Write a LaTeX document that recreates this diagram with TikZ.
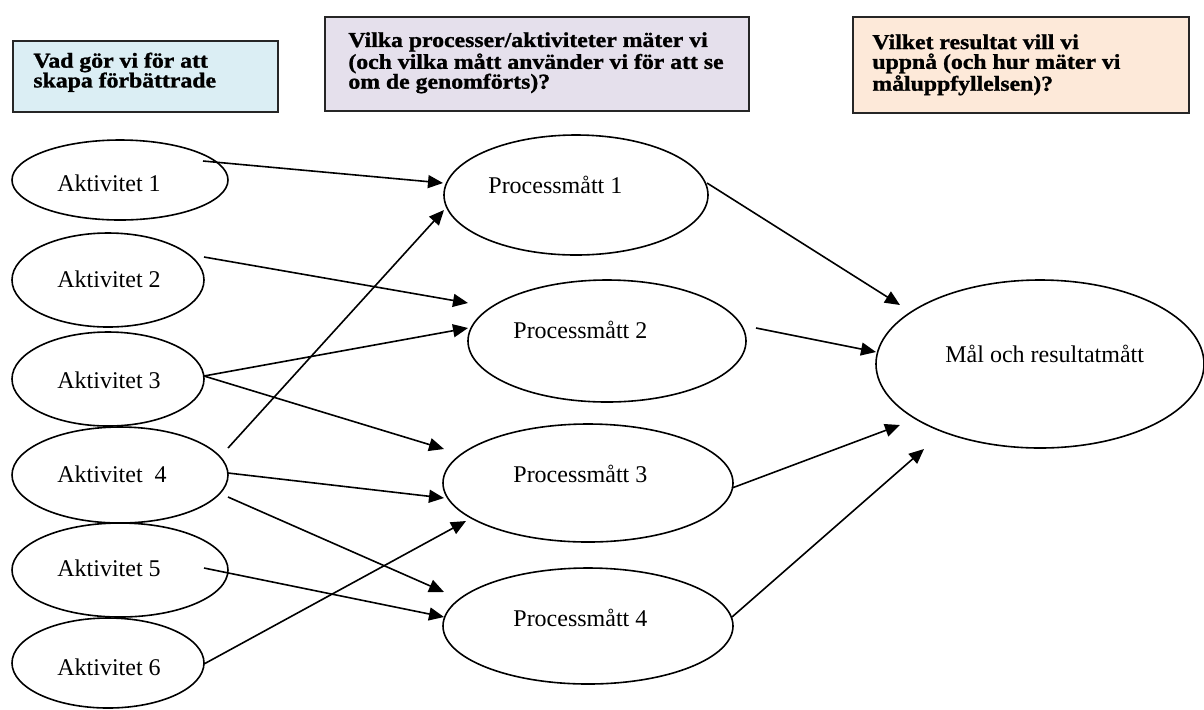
\documentclass[tikz,border=0pt]{standalone}
\usepackage{fontspec}
\setmainfont{Liberation Serif}
\newfontfamily\hdfont{Liberation Serif}[FakeStretch=1.12,FakeBold=1.2]
\usetikzlibrary{shapes.geometric,arrows.meta,calc}
\definecolor{boxblue}{HTML}{DBEEF4}
\definecolor{boxlilac}{HTML}{E5E0EC}
\definecolor{boxpeach}{HTML}{FDE9D9}
\begin{document}
\begin{tikzpicture}[x=0.5pt,y=-0.5pt,
  ell/.style={ellipse,draw,line width=0.8pt,inner sep=0pt},
  arr/.style={line width=0.8pt,-{Triangle[length=7.5pt,width=6.5pt]}},
  hbox/.style={draw=black!85,line width=0.8pt,anchor=north west,inner sep=0pt},
  htext/.style={anchor=west,align=left,inner sep=0pt,
    font=\hdfont\bfseries\fontsize{10.6}{9.9}\selectfont},
  lbl/.style={anchor=base west,inner sep=0pt,font=\fontsize{12}{14}\selectfont}]
\useasboundingbox (0,0) rectangle (1204,709);

% header boxes
\node[hbox,fill=boxblue,minimum width=132.5pt,minimum height=35.5pt] (h1) at (12,40) {};
\node[hbox,fill=boxlilac,minimum width=212pt,minimum height=47pt] (h2) at (324,16) {};
\node[hbox,fill=boxpeach,minimum width=168pt,minimum height=48pt] (h3) at (852,16) {};

\node[htext] (ht1) at ($(h1.west)+(21,-4)$) {Vad gör vi för att\\skapa förbättrade};
\node[htext] (ht2) at ($(h2.west)+(24,-1)$) {Vilka processer/aktiviteter mäter vi\\(och vilka mått använder vi för att se\\om de genomförts)?};
\node[htext] (ht3) at ($(h3.west)+(20,0)$) {Vilket resultat vill vi\\uppnå (och hur mäter vi\\måluppfyllelsen)?};

% activity ellipses
\node[ell,minimum width=108pt,minimum height=40pt] (a1) at (120,180) {};
\node[ell,minimum width=96pt,minimum height=47pt] (a2) at (108,280) {};
\node[ell,minimum width=96pt,minimum height=47pt] (a3) at (108,379) {};
\node[ell,minimum width=108pt,minimum height=48pt] (a4) at (120,475) {};
\node[ell,minimum width=108pt,minimum height=47pt] (a5) at (120,570) {};
\node[ell,minimum width=96pt,minimum height=45pt] (a6) at (108,663) {};

\node[lbl] (t1) at ($(a1)+(-63,11)$) {Aktivitet 1};
\node[lbl] (t2) at ($(a2)+(-51,7)$) {Aktivitet 2};
\node[lbl] (t3) at ($(a3)+(-51,9)$) {Aktivitet 3};
\node[lbl] (t4) at ($(a4)+(-63,7)$) {Aktivitet\ \ 4};
\node[lbl] (t5) at ($(a5)+(-63,6)$) {Aktivitet 5};
\node[lbl] (t6) at ($(a6)+(-51,12)$) {Aktivitet 6};

% process ellipses
\node[ell,minimum width=132pt,minimum height=60pt] (p1) at (576,195) {};
\node[ell,minimum width=139pt,minimum height=61pt] (p2) at (607,341) {};
\node[ell,minimum width=145pt,minimum height=59pt] (p3) at (588,483) {};
\node[ell,minimum width=145pt,minimum height=58pt] (p4) at (588,626) {};

\node[lbl] (u1) at ($(p1)+(-88,-2)$) {Processmått 1};
\node[lbl] (u2) at ($(p2)+(-94,-3)$) {Processmått 2};
\node[lbl] (u3) at ($(p3)+(-75,-1)$) {Processmått 3};
\node[lbl] (u4) at ($(p4)+(-75,0)$) {Processmått 4};

% goal ellipse
\node[ell,minimum width=164pt,minimum height=84pt] (m) at (1040,364) {};
\node[lbl] (um) at ($(m)+(-95,-2)$) {Mål och resultatmått};

% connectors activities -> processes
\draw[arr] ($(a1)+(83,-19)$) -- ($(p1)+(-133,-12)$);
\draw[arr] ($(a4)+(108,-27)$) -- ($(p1)+(-132,15)$);
\draw[arr] ($(a2)+(96,-23)$) -- ($(p2)+(-139,-38)$);
\draw[arr] ($(a3)+(96,-3)$) -- ($(p2)+(-139,-13)$);
\draw[arr] ($(a3)+(96,-3)$) -- ($(p3)+(-144,-34)$);
\draw[arr] ($(a4)+(108,-2)$) -- ($(p3)+(-144,15)$);
\draw[arr] ($(a4)+(108,22)$) -- ($(p4)+(-144,-34)$);
\draw[arr] ($(a5)+(84,-2)$) -- ($(p4)+(-144,-9)$);
\draw[arr] ($(a6)+(96,1)$) -- ($(p3)+(-122,38)$);

% connectors processes -> goal
\draw[arr] ($(p1)+(131,-12)$) -- ($(m)+(-140,-59)$);
\draw[arr] ($(p2)+(149,-13)$) -- ($(m)+(-164,-12)$);
\draw[arr] ($(p3)+(144,5)$) -- ($(m)+(-140,61)$);
\draw[arr] ($(p4)+(144,-9)$) -- ($(m)+(-116,85)$);
\end{tikzpicture}
\end{document}
